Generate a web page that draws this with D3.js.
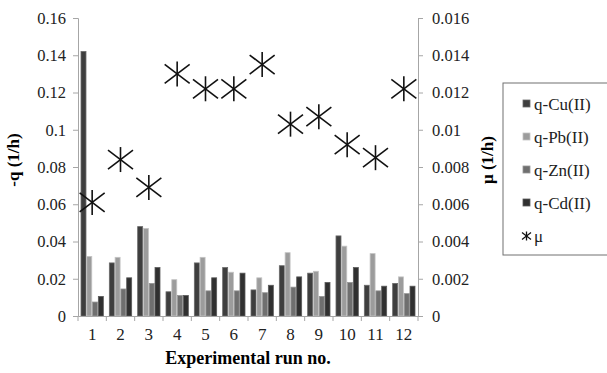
<!DOCTYPE html>
<html>
<head>
<meta charset="utf-8">
<script src="https://cdn.jsdelivr.net/npm/d3@7"></script>
<style>
  body { margin: 0; background: #fff; }
  svg { font-family: "Liberation Serif", "Times New Roman", serif; }
</style>
</head>
<body>
<svg id="chart"></svg>
<script>
let runs = ["1", "2", "3", "4", "5", "6", "7", "8", "9", "10", "11", "12"];
let seriesNames = ["q-Cu(II)", "q-Pb(II)", "q-Zn(II)", "q-Cd(II)"];
let qCu = [0.142, 0.0285, 0.048, 0.013, 0.0285, 0.026, 0.014, 0.027, 0.023, 0.043, 0.0165, 0.0175];
let qPb = [0.032, 0.0315, 0.047, 0.0195, 0.0315, 0.0235, 0.0205, 0.034, 0.024, 0.0375, 0.0335, 0.021];
let qZn = [0.0075, 0.0145, 0.0175, 0.011, 0.0135, 0.0135, 0.0125, 0.0155, 0.0105, 0.018, 0.0135, 0.012];
let qCd = [0.0105, 0.0205, 0.026, 0.011, 0.0205, 0.023, 0.0165, 0.021, 0.018, 0.026, 0.016, 0.016];
let mu = [0.0061, 0.0084, 0.0069, 0.0130, 0.0122, 0.0122, 0.0135, 0.0103, 0.0107, 0.0092, 0.0085, 0.0122];
let leftTicks = [0, 0.02, 0.04, 0.06, 0.08, 0.1, 0.12, 0.14, 0.16];
let rightTicks = [0, 0.002, 0.004, 0.006, 0.008, 0.01, 0.012, 0.014, 0.016];

let colors = ["#3e3e3e", "#9c9c9c", "#6f6f6f", "#303030"];
let strokes = ["#6a6a6a", "#c4c4c4", "#969696", "#5a5a5a"];

let config = { svg: {}, plot: {}, legend: {} };
config.svg.width = 607;
config.svg.height = 373;
config.plot.x = 78;
config.plot.y = 18;
config.plot.width = 340;
config.plot.height = 298;
config.legend.x = 503;
config.legend.y = 83;

let svg = d3.select("svg#chart")
  .attr("width", config.svg.width)
  .attr("height", config.svg.height);

let plot = svg.append("g")
  .attr("transform", translate(config.plot.x, config.plot.y));

let scale = {};
scale.x = d3.scaleBand().domain(runs).range([0, config.plot.width]);
scale.inner = d3.scaleBand().domain(d3.range(4))
  .range([0, scale.x.bandwidth()]).paddingOuter(0.45).paddingInner(0);
scale.y = d3.scaleLinear().domain([0, 0.16]).range([config.plot.height, 0]);
scale.y2 = d3.scaleLinear().domain([0, 0.016]).range([config.plot.height, 0]);

function styleAxis(g) {
  g.selectAll("path, line").attr("stroke", "#a6a6a6");
  g.selectAll("text")
    .attr("font-family", "Liberation Serif, serif")
    .attr("font-size", "16.5px")
    .attr("fill", "#222");
}

// axes
let axisY = d3.axisLeft(scale.y).tickValues(leftTicks).tickSize(5).tickPadding(7)
  .tickFormat(d => d3.format("")(+d.toFixed(2)));
let gy = svg.append("g")
  .attr("transform", translate(config.plot.x, config.plot.y)).call(axisY);
styleAxis(gy);

let axisY2 = d3.axisRight(scale.y2).tickValues(rightTicks).tickSize(5).tickPadding(9)
  .tickFormat(d => d3.format("")(+d.toFixed(3)));
let gy2 = svg.append("g")
  .attr("transform", translate(config.plot.x + config.plot.width, config.plot.y)).call(axisY2);
styleAxis(gy2);

let axisX = d3.axisBottom(scale.x).tickSize(0).tickPadding(12);
let gx = svg.append("g")
  .attr("transform", translate(config.plot.x, config.plot.y + config.plot.height)).call(axisX);
gx.selectAll(".boundary").data(d3.range(runs.length + 1)).enter().append("line")
  .attr("x1", i => i * scale.x.step()).attr("x2", i => i * scale.x.step())
  .attr("y1", 0).attr("y2", 5);
styleAxis(gx);
gx.selectAll("text").attr("font-size", "17px");

// bars
let allSeries = [qCu, qPb, qZn, qCd];
allSeries.forEach(function(values, s) {
  plot.selectAll(".bar-" + s)
    .data(values)
    .enter()
    .append("rect")
    .attr("x", (d, i) => scale.x(runs[i]) + scale.inner(s) + 0.4)
    .attr("y", d => scale.y(d))
    .attr("width", scale.inner.bandwidth() - 0.8)
    .attr("height", d => config.plot.height - scale.y(d))
    .attr("fill", colors[s])
    .attr("stroke", strokes[s])
    .attr("stroke-width", 0.8);
});

// mu markers
function star(g, r) {
  g.append("line").attr("x1", 0).attr("y1", -r).attr("x2", 0).attr("y2", r);
  g.append("line").attr("x1", -r).attr("y1", -r * 0.76).attr("x2", r).attr("y2", r * 0.76);
  g.append("line").attr("x1", -r).attr("y1", r * 0.76).attr("x2", r).attr("y2", -r * 0.76);
}

let markers = plot.selectAll(".mu")
  .data(mu)
  .enter()
  .append("g")
  .attr("transform", (d, i) => translate(scale.x(runs[i]) + scale.x.bandwidth() / 2, scale.y2(d)))
  .attr("stroke", "#111")
  .attr("stroke-width", 1.6);
markers.each(function() { star(d3.select(this), 12.5); });

// axis titles
svg.append("text")
  .text("-q (1/h)")
  .attr("transform", "translate(19," + (config.plot.y + 142) + ") rotate(-90)")
  .attr("text-anchor", "middle")
  .attr("font-size", "17px")
  .attr("font-weight", "bold");

svg.append("text")
  .text("μ (1/h)")
  .attr("transform", "translate(493," + (config.plot.y + 142) + ") rotate(-90)")
  .attr("text-anchor", "middle")
  .attr("font-size", "17px")
  .attr("font-weight", "bold");

svg.append("text")
  .text("Experimental run no.")
  .attr("x", 248)
  .attr("y", 364)
  .attr("text-anchor", "middle")
  .attr("font-size", "18px")
  .attr("font-weight", "bold");

// legend
let legend = svg.append("g").attr("transform", translate(config.legend.x, config.legend.y));
legend.append("rect")
  .attr("width", 120).attr("height", 172)
  .attr("fill", "#fff").attr("stroke", "#707070").attr("stroke-width", 1);

let items = legend.selectAll(".item")
  .data(seriesNames.concat(["μ"]))
  .enter()
  .append("g")
  .attr("transform", (d, i) => translate(20, 21 + i * 33));

items.each(function(d, i) {
  let g = d3.select(this);
  if (i < 4) {
    g.append("rect").attr("x", 0).attr("y", -4).attr("width", 7).attr("height", 7)
      .attr("fill", colors[i]).attr("stroke", strokes[i]).attr("stroke-width", 0.8);
  } else {
    let m = g.append("g").attr("transform", translate(3.5, 0))
      .attr("stroke", "#111").attr("stroke-width", 1.3);
    star(m, 4.5);
  }
  g.append("text").text(d).attr("x", 11).attr("y", 5.5).attr("font-size", "17px").attr("fill", "#222");
});

function translate(x, y) {
  return "translate(" + x + "," + y + ")";
}
</script>
</body>
</html>
